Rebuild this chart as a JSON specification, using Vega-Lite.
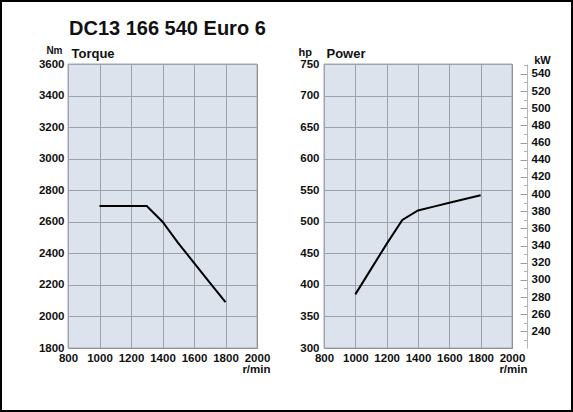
{
  "$schema": "https://vega.github.io/schema/vega-lite/v6.json",
  "padding": 1,
  "width": 571,
  "height": 410,
  "background": "white",
  "view": {"stroke": "black", "strokeWidth": 2, "fill": "white"},
  "title": {
    "text": "DC13 166 540 Euro 6",
    "anchor": "start",
    "frame": "group",
    "fontSize": 20,
    "baseline": "alphabetic",
    "offset": -54,
    "dx": 68
  },
  "config": {
    "font": "Liberation Sans",
    "axis": {
      "labelFont": "Liberation Sans",
      "labelFontWeight": "bold",
      "labelFontSize": 11.5,
      "labelColor": "#111111",
      "labelOverlap": false,
      "labelFlush": false,
      "titleFont": "Liberation Sans",
      "titleFontWeight": "bold",
      "titleColor": "#111111",
      "gridColor": "#7b7b7d",
      "gridOpacity": 1,
      "gridWidth": 1
    },
    "title": {"font": "Liberation Sans", "fontWeight": "bold", "color": "#111111"}
  },
  "layer": [
    {
      "data": {
        "values": [
          {"rpm": 1000, "torque": 2700},
          {"rpm": 1100, "torque": 2700},
          {"rpm": 1200, "torque": 2700},
          {"rpm": 1300, "torque": 2700},
          {"rpm": 1400, "torque": 2600},
          {"rpm": 1500, "torque": 2465},
          {"rpm": 1600, "torque": 2340},
          {"rpm": 1700, "torque": 2215},
          {"rpm": 1800, "torque": 2090}
        ]
      },
      "layer": [
        {
          "data": {"values": [{}]},
          "mark": {"type": "rect", "fill": "#b9c7d9", "fillOpacity": 0.5, "stroke": "#a3a8ae", "strokeWidth": 1, "strokeOpacity": 1},
          "encoding": {
            "x": {
              "datum": 800,
              "type": "quantitative",
              "scale": {"domain": [800, 2000], "range": [67, 256], "nice": false, "zero": false},
              "axis": {
                "orient": "top",
                "labels": false,
                "ticks": false,
                "domain": false,
                "grid": false,
                "title": "Torque",
                "titleFontSize": 13,
                "titleAlign": "left",
                "titleBaseline": "alphabetic",
                "titleX": 70,
                "titleY": 56
              }
            },
            "x2": {"datum": 2000},
            "y": {
              "datum": 1800,
              "type": "quantitative",
              "scale": {"domain": [1800, 3600], "range": [347, 63], "nice": false, "zero": false}
            },
            "y2": {"datum": 3600}
          }
        },
        {
          "mark": {"type": "line", "color": "black", "strokeWidth": 2},
          "encoding": {
            "x": {
              "field": "rpm",
              "type": "quantitative",
              "scale": {"domain": [800, 2000], "range": [67, 256], "nice": false, "zero": false},
              "axis": {
                "orient": "bottom",
                "offset": -63,
                "values": [800, 1000, 1200, 1400, 1600, 1800, 2000],
                "format": "d",
                "grid": true,
                "ticks": false,
                "domain": false,
                "labelPadding": 4,
                "title": "r/min",
                "titleFontSize": 11.5,
                "titleAlign": "right",
                "titleBaseline": "middle",
                "titleX": 269,
                "titleY": 21
              }
            },
            "y": {
              "field": "torque",
              "type": "quantitative",
              "scale": {"domain": [1800, 3600], "range": [347, 63], "nice": false, "zero": false},
              "axis": {
                "orient": "left",
                "offset": -67,
                "values": [1800, 2000, 2200, 2400, 2600, 2800, 3000, 3200, 3400, 3600],
                "format": "d",
                "grid": true,
                "ticks": false,
                "domain": false,
                "labelPadding": 4,
                "title": "Nm",
                "titleFontSize": 10,
                "titleAngle": 0,
                "titleAlign": "right",
                "titleBaseline": "alphabetic",
                "titleX": -6,
                "titleY": 52
              }
            }
          }
        }
      ],
      "resolve": {"scale": {"x": "independent"}, "axis": {"x": "independent"}}
    },
    {
      "data": {
        "values": [
          {"rpm": 1000, "hp": 385, "kW": 283},
          {"rpm": 1100, "hp": 425, "kW": 312.5},
          {"rpm": 1200, "hp": 465, "kW": 342},
          {"rpm": 1300, "hp": 503, "kW": 370},
          {"rpm": 1400, "hp": 518, "kW": 381},
          {"rpm": 1500, "hp": 524, "kW": 385},
          {"rpm": 1600, "hp": 530, "kW": 390},
          {"rpm": 1700, "hp": 536, "kW": 394},
          {"rpm": 1800, "hp": 542, "kW": 398.5}
        ]
      },
      "layer": [
        {
          "data": {"values": [{}]},
          "mark": {"type": "rect", "fill": "#b9c7d9", "fillOpacity": 0.5, "stroke": "#a3a8ae", "strokeWidth": 1, "strokeOpacity": 1},
          "encoding": {
            "x": {
              "datum": 800,
              "type": "quantitative",
              "scale": {"domain": [800, 2000], "range": [323, 511], "nice": false, "zero": false},
              "axis": {
                "orient": "top",
                "labels": false,
                "ticks": false,
                "domain": false,
                "grid": false,
                "title": "Power",
                "titleFontSize": 13,
                "titleAlign": "left",
                "titleBaseline": "alphabetic",
                "titleX": 325,
                "titleY": 56.5
              }
            },
            "x2": {"datum": 2000},
            "y": {
              "datum": 300,
              "type": "quantitative",
              "scale": {"domain": [300, 750], "range": [347, 63], "nice": false, "zero": false}
            },
            "y2": {"datum": 750}
          }
        },
        {
          "mark": {"type": "line", "color": "black", "strokeWidth": 2},
          "encoding": {
            "x": {
              "field": "rpm",
              "type": "quantitative",
              "scale": {"domain": [800, 2000], "range": [323, 511], "nice": false, "zero": false},
              "axis": {
                "orient": "bottom",
                "offset": -63,
                "values": [800, 1000, 1200, 1400, 1600, 1800, 2000],
                "format": "d",
                "grid": true,
                "ticks": false,
                "domain": false,
                "labelPadding": 4,
                "title": "r/min",
                "titleFontSize": 11.5,
                "titleAlign": "right",
                "titleBaseline": "middle",
                "titleX": 526,
                "titleY": 21
              }
            },
            "y": {
              "field": "hp",
              "type": "quantitative",
              "scale": {"domain": [300, 750], "range": [347, 63], "nice": false, "zero": false},
              "axis": {
                "orient": "left",
                "offset": -323,
                "values": [300, 350, 400, 450, 500, 550, 600, 650, 700, 750],
                "format": "d",
                "grid": true,
                "ticks": false,
                "domain": false,
                "labelPadding": 5,
                "title": "hp",
                "titleFontSize": 11,
                "titleAngle": 0,
                "titleAlign": "left",
                "titleBaseline": "alphabetic",
                "titleX": -26,
                "titleY": 54.5
              }
            }
          }
        }
      ],
      "resolve": {"scale": {"x": "independent"}, "axis": {"x": "independent"}}
    },
    {
      "data": {
        "values": [
          {"rpm": 1000, "kW": 283},
          {"rpm": 1800, "kW": 398.5}
        ]
      },
      "mark": {"type": "line", "opacity": 0},
      "encoding": {
        "x": {
          "field": "rpm",
          "type": "quantitative",
          "scale": {"domain": [800, 2000], "range": [323, 511], "nice": false, "zero": false},
          "axis": null
        },
        "y": {
          "field": "kW",
          "type": "quantitative",
          "scale": {"domain": [220.6, 551.5], "range": [347, 63], "nice": false, "zero": false},
          "axis": {
            "orient": "right",
            "offset": -45,
            "values": [240, 260, 280, 300, 320, 340, 360, 380, 400, 420, 440, 460, 480, 500, 520, 540],
            "format": "d",
            "grid": false,
            "ticks": true,
            "tickSize": -7,
            "tickColor": "#9a9a9a",
            "domain": true,
            "domainColor": "#b5b5b5",
            "labelPadding": 11,
            "title": "kW",
            "titleFontSize": 11,
            "titleAngle": 0,
            "titleAlign": "center",
            "titleBaseline": "alphabetic",
            "titleX": 15,
            "titleY": 62
          }
        }
      }
    },
    {
      "data": {
        "values": [
          {"rpm": 1000, "kW": 283},
          {"rpm": 1800, "kW": 398.5}
        ]
      },
      "mark": {"type": "line", "opacity": 0},
      "encoding": {
        "x": {
          "field": "rpm",
          "type": "quantitative",
          "scale": {"domain": [800, 2000], "range": [323, 511], "nice": false, "zero": false},
          "axis": null
        },
        "y": {
          "field": "kW",
          "type": "quantitative",
          "scale": {"domain": [220.6, 551.5], "range": [347, 63], "nice": false, "zero": false},
          "axis": {
            "orient": "right",
            "offset": -45,
            "values": [230, 250, 270, 290, 310, 330, 350, 370, 390, 410, 430, 450, 470, 490, 510, 530, 550],
            "grid": false,
            "ticks": true,
            "tickSize": -3.5,
            "tickColor": "#b0b0b0",
            "domain": false,
            "labels": false,
            "title": null
          }
        }
      }
    }
  ],
  "resolve": {
    "scale": {"x": "independent", "y": "independent"},
    "axis": {"x": "independent", "y": "independent"}
  }
}
